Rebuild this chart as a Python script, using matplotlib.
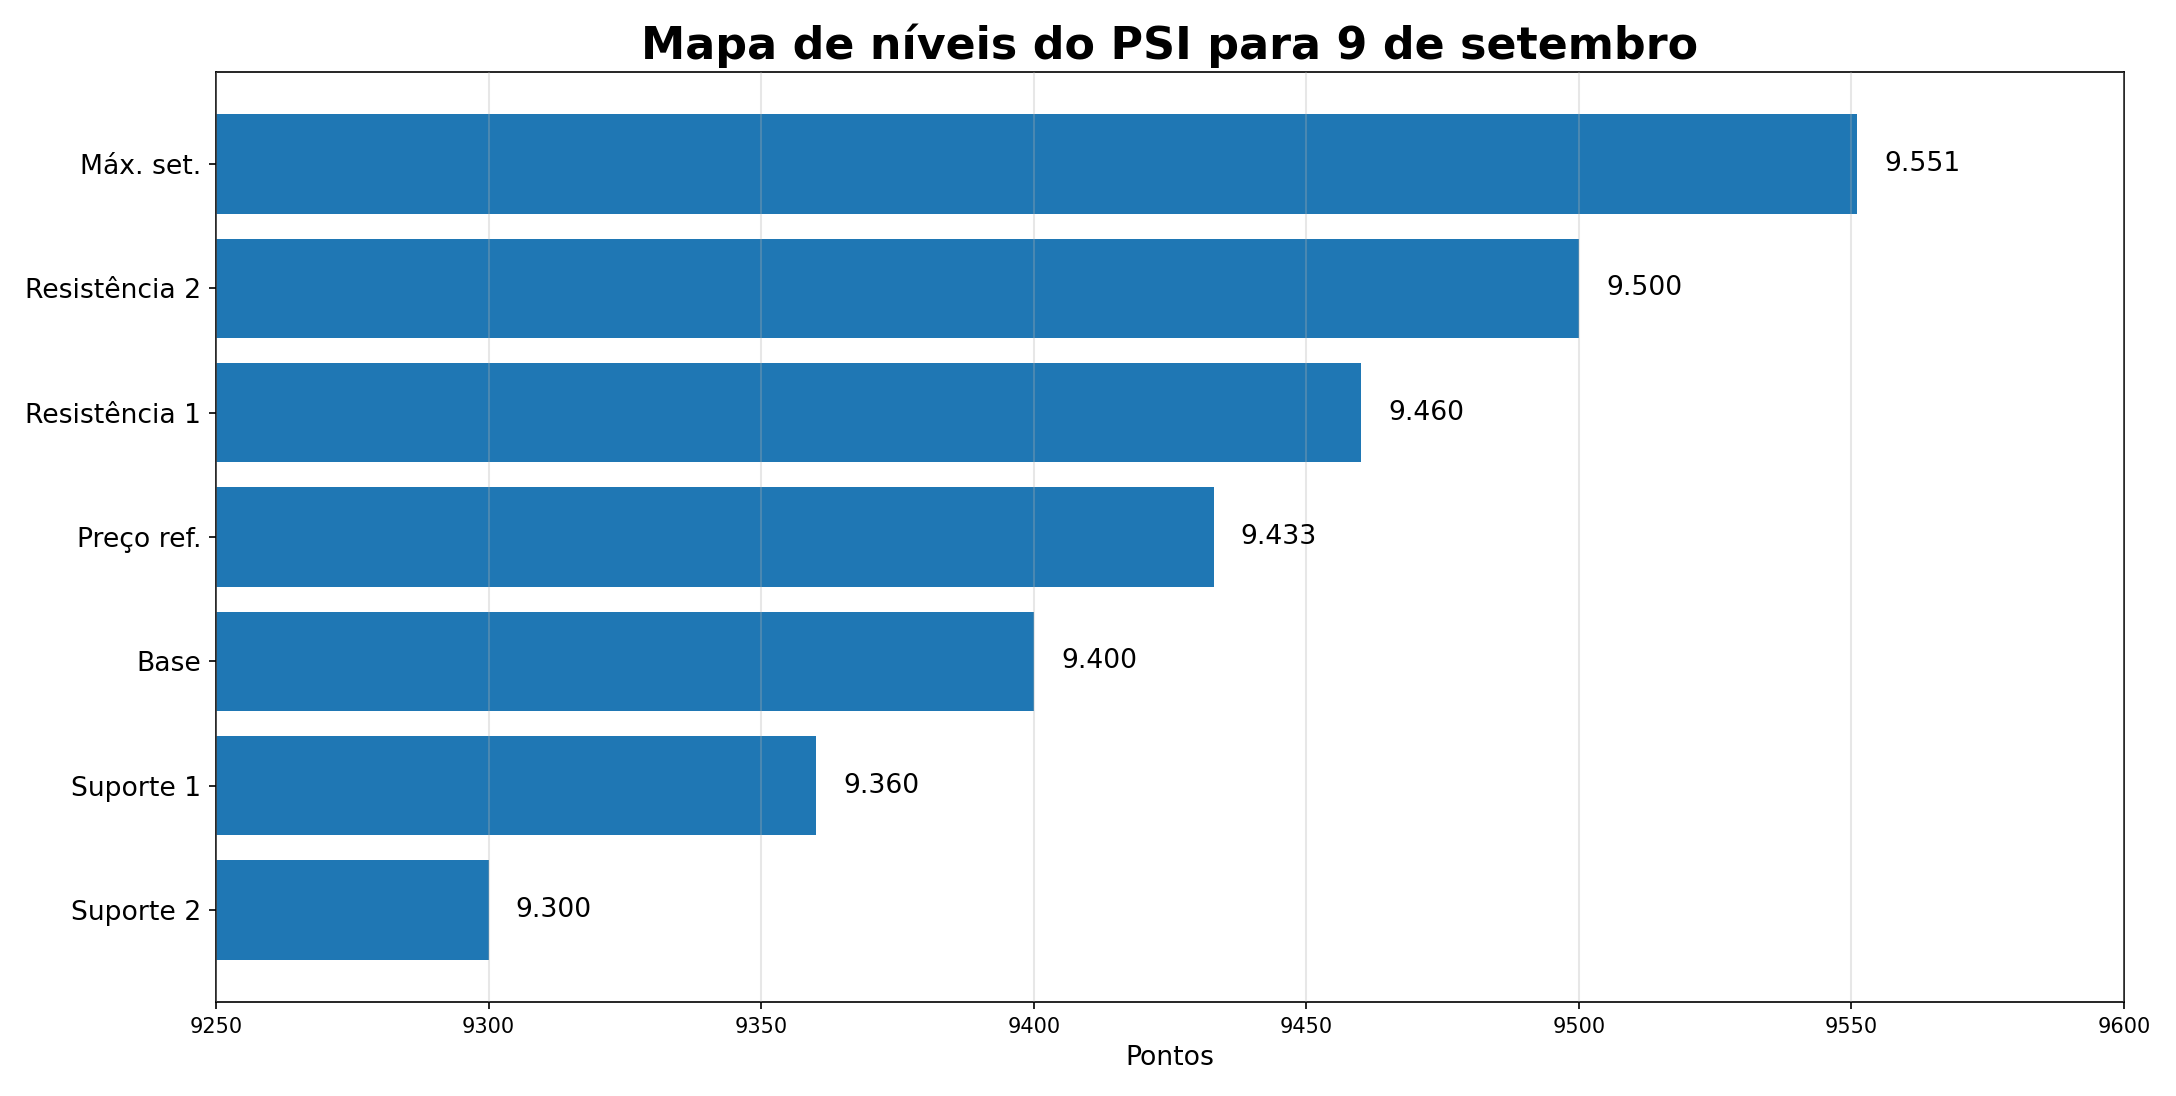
import matplotlib
matplotlib.use("Agg")
import matplotlib.pyplot as plt

categories = ["Suporte 2", "Suporte 1", "Base", "Preço ref.", "Resistência 1", "Resistência 2", "Máx. set."]
values = [9300, 9360, 9400, 9433, 9460, 9500, 9551]
xticks = [9250, 9300, 9350, 9400, 9450, 9500, 9550, 9600]

dpi = 150
fig = plt.figure(figsize=(2176 / dpi, 1096 / dpi), dpi=dpi)
ax = fig.add_axes([216 / 2176, 1 - 1002 / 1096, (2124 - 216) / 2176, (1002 - 72) / 1096])

ax.barh(categories, values, height=0.8, color="#1f77b4", zorder=2)
ax.set_xlim(9250, 9600)
ax.set_xticks(xticks)
ax.tick_params(axis="x", labelsize=10)
ax.tick_params(axis="y", labelsize=12.8)
ax.grid(axis="x", color="#b0b0b0", alpha=0.3, linewidth=1.0, zorder=3)
ax.set_axisbelow(False)
for s in ax.spines.values():
    s.set_color("black")

for i, v in enumerate(values):
    lbl = f"{v:,}".replace(",", ".")
    ax.text(v + 5, i, lbl, va="center", ha="left", fontsize=12.8)

ax.set_xlabel("Pontos", fontsize=12.8)
ax.set_title("Mapa de níveis do PSI para 9 de setembro", fontsize=21.3, fontweight="bold")

fig.savefig("out.png", dpi=dpi)
